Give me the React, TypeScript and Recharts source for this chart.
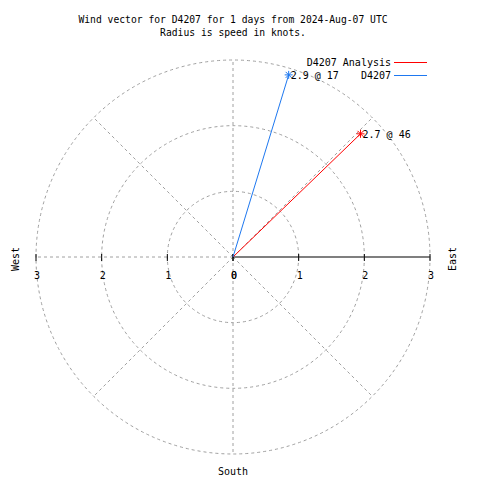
import {
  ScatterChart,
  Scatter,
  XAxis,
  YAxis,
  ReferenceLine,
  ReferenceDot,
} from "recharts";

const seriesNames = ["D4207 Analysis", "D4207"];
const seriesColors = ["#ff0000", "#1e78f0"];
const speeds = [2.7, 2.9];
const directions = [46, 17];
const ringValues = [1, 2, 3];
const spokeAngles = [0, 45, 90, 135, 180, 225, 270, 315];
const eastTicks = [0, 1, 2, 3];
const westTicks = [0, 1, 2, 3];

const W = 480;
const H = 480;
const margin = { top: 60, right: 50, bottom: 26, left: 36 };
const maxR = 3;
const pxPerUnit = (W - margin.left - margin.right) / (2 * maxR);
const font = "'DejaVu Sans Mono', monospace";
const fontSize = 10;
const gridGray = "#a0a0a0";

const rad = (deg: number) => (deg * Math.PI) / 180;

// one short series per vector: origin -> tip
const vectors = seriesNames.map((name, i) => ({
  name,
  color: seriesColors[i],
  label: `${speeds[i]} @ ${directions[i]}`,
  data: [
    { x: 0, y: 0, tip: false },
    {
      x: speeds[i] * Math.sin(rad(directions[i])),
      y: speeds[i] * Math.cos(rad(directions[i])),
      tip: true,
    },
  ],
}));

// eslint-disable-next-line @typescript-eslint/no-explicit-any
const starShape = (color: string, label: string) => (props: any) => {
  const { cx, cy, payload } = props;
  if (!payload || !payload.tip) return <g />;
  const s = 4;
  return (
    <g>
      <line x1={cx - s} y1={cy} x2={cx + s} y2={cy} stroke={color} />
      <line x1={cx} y1={cy - s} x2={cx} y2={cy + s} stroke={color} />
      <line x1={cx - 3} y1={cy - 3} x2={cx + 3} y2={cy + 3} stroke={color} />
      <line x1={cx - 3} y1={cy + 3} x2={cx + 3} y2={cy - 3} stroke={color} />
      <text x={cx + 2} y={cy + 4} fontSize={fontSize} fontFamily={font} fill="#000">
        {label}
      </text>
    </g>
  );
};

// eslint-disable-next-line @typescript-eslint/no-explicit-any
const ringShape = (r: number) => (props: any) => (
  <circle
    cx={props.cx}
    cy={props.cy}
    r={r}
    fill="none"
    stroke={gridGray}
    strokeDasharray="3 3"
  />
);

// eslint-disable-next-line @typescript-eslint/no-explicit-any
const tickShape = (label: string, dx: number) => (props: any) => (
  <g>
    <line x1={props.cx} y1={props.cy - 3} x2={props.cx} y2={props.cy + 4} stroke="#000" />
    <text
      x={props.cx + dx}
      y={props.cy + 22}
      fontSize={fontSize}
      fontFamily={font}
      textAnchor="middle"
      fill="#000"
    >
      {label}
    </text>
  </g>
);

export default function App() {
  return (
    <div
      style={{
        position: "absolute",
        left: 0,
        top: 0,
        width: W,
        height: H,
        background: "#fff",
        fontFamily: font,
      }}
    >
      <div
        style={{
          position: "absolute",
          top: 13,
          left: 0,
          width: W - 14,
          textAlign: "center",
          fontSize: 9.7,
          lineHeight: "13px",
          whiteSpace: "pre",
        }}
      >
        {"Wind vector for D4207 for 1 days from 2024-Aug-07 UTC\nRadius is speed in knots."}
      </div>
      <ScatterChart width={W} height={H} margin={margin}>
        <XAxis type="number" dataKey="x" domain={[-maxR, maxR]} hide />
        <YAxis type="number" dataKey="y" domain={[-maxR, maxR]} hide />

        {ringValues.map((r) => (
          <ReferenceDot
            key={`ring-${r}`}
            x={0}
            y={0}
            r={r * pxPerUnit}
            shape={ringShape(r * pxPerUnit)}
            ifOverflow="visible"
          />
        ))}
        {spokeAngles
          .filter((a) => a !== 90)
          .map((a) => (
            <ReferenceLine
              key={`spoke-${a}`}
              segment={[
                { x: 0, y: 0 },
                { x: maxR * Math.sin(rad(a)), y: maxR * Math.cos(rad(a)) },
              ]}
              stroke={gridGray}
              strokeDasharray="3 3"
              ifOverflow="visible"
            />
          ))}
        <ReferenceLine
          segment={[
            { x: 0, y: 0 },
            { x: maxR, y: 0 },
          ]}
          stroke="#000"
          strokeWidth={1.2}
          ifOverflow="visible"
        />
        {westTicks.map((t) => (
          <ReferenceDot
            key={`w-${t}`}
            x={-t}
            y={0}
            shape={tickShape(String(t), 1)}
            ifOverflow="visible"
          />
        ))}
        {eastTicks.map((t) => (
          <ReferenceDot
            key={`e-${t}`}
            x={t}
            y={0}
            shape={tickShape(String(t), 1)}
            ifOverflow="visible"
          />
        ))}

        {vectors.map((v) => (
          <Scatter
            key={v.name}
            name={v.name}
            data={v.data}
            line={{ stroke: v.color, strokeWidth: 1 }}
            shape={starShape(v.color, v.label)}
            isAnimationActive={false}
          />
        ))}
      </ScatterChart>

      {/* legend, top right */}
      <svg
        width={200}
        height={40}
        style={{ position: "absolute", left: 240, top: 50 }}
      >
        {vectors.map((v, i) => (
          <g key={v.name}>
            <text
              x={151}
              y={16 + i * 13}
              textAnchor="end"
              fontSize={fontSize}
              fontFamily={font}
              fill="#000"
            >
              {v.name}
            </text>
            <line
              x1={154}
              x2={187}
              y1={12.5 + i * 13}
              y2={12.5 + i * 13}
              stroke={v.color}
              strokeWidth={1}
            />
          </g>
        ))}
      </svg>

      <div
        style={{
          position: "absolute",
          left: 15,
          top: 259,
          transform: "translate(-50%, -50%) rotate(-90deg)",
          fontSize,
        }}
      >
        West
      </div>
      <div
        style={{
          position: "absolute",
          left: 452,
          top: 259,
          transform: "translate(-50%, -50%) rotate(-90deg)",
          fontSize,
        }}
      >
        East
      </div>
      <div
        style={{
          position: "absolute",
          left: 233,
          top: 471,
          transform: "translate(-50%, -50%)",
          fontSize,
        }}
      >
        South
      </div>
    </div>
  );
}
